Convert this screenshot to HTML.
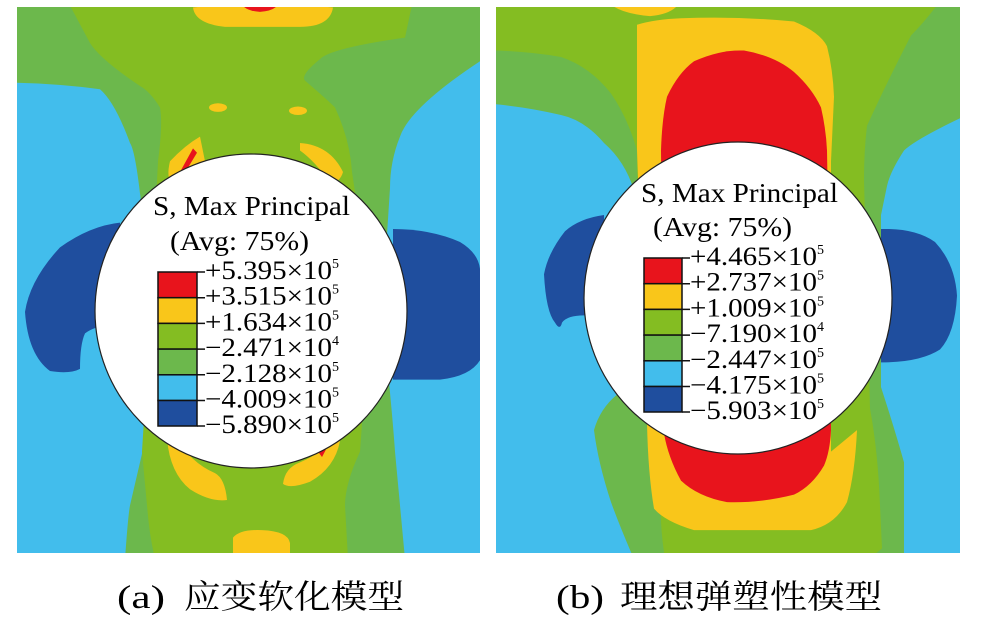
<!DOCTYPE html>
<html><head><meta charset="utf-8"><style>
html,body{margin:0;padding:0;background:#fff;}
svg{display:block;}
</style></head><body>
<svg width="988" height="627" viewBox="0 0 988 627" xmlns="http://www.w3.org/2000/svg" font-family="'Liberation Serif', serif">
<defs>
<clipPath id="cl"><rect x="17" y="7" width="463" height="546"/></clipPath>
<clipPath id="cr"><rect x="496" y="7" width="464" height="546"/></clipPath>
</defs>
<rect width="988" height="627" fill="#fff"/>

<!-- LEFT PANEL -->
<g clip-path="url(#cl)">
<rect x="17" y="7" width="463" height="546" fill="#42bdec"/>
<g transform="scale(1,1.0753)">
<path fill="#6cb84c" d="M17,0 L480,0 L480,57 Q410,100 400,127 Q390,150 390,175 L382,290 Q392,380 395,420 Q400,470 405,520 L410,520 L125,520 Q128,480 130,470 Q140,430 145,410 L142,250 Q142,190 140,180 Q135,140 130,133 Q115,95 100,83 Q60,78 17,77 Z"/>
<path fill="#84bd22" d="M67,0 L413,0 L405,35 Q330,45 320,55 Q300,70 305,75 Q330,95 335,100 Q350,130 352,160 L360,210 L370,290 L360,420 Q345,450 345,470 L348,520 L155,520 Q150,500 148,480 L142,420 L150,300 L158,150 Q163,115 160,100 Q150,85 140,80 Q100,55 90,40 Z"/>
<path fill="#f9c61a" d="M193,7 Q260,0 333,7 Q330,25 300,25 L225,25 Q195,22 193,7 Z"/>
<path fill="#e8141c" d="M240,0 L280,0 Q278,10 260,11 Q242,10 240,0 Z"/>
<ellipse cx="218" cy="100" rx="9" ry="4" fill="#f9c61a"/>
<ellipse cx="298" cy="103" rx="9" ry="4" fill="#f9c61a"/>
<path fill="#f9c61a" d="M200,127 Q185,135 170,150 Q166,165 172,172 L205,150 Z"/>
<path fill="#e8141c" d="M193,138 L180,160 L184,162 L197,142 Z"/>
<path fill="#f9c61a" d="M300,133 Q330,135 343,160 Q340,170 330,170 Q315,150 300,140 Z"/>
<path fill="#f9c61a" d="M167,408 Q170,440 190,455 Q210,467 227,465 Q225,445 215,440 Q190,430 175,405 Z"/>
<path fill="#f9c61a" d="M340,410 Q335,435 310,448 Q290,455 283,450 Q285,435 300,430 Q325,420 335,405 Z"/>
<path fill="#e8141c" d="M318,420 L322,425 L326,418 Z"/>
<path fill="#f9c61a" d="M233,500 Q240,492 262,493 Q288,494 290,505 L290,520 L233,520 Z"/>
<path fill="#1f4e9e" d="M120,207 Q90,210 60,230 Q30,260 25,290 Q28,330 50,345 Q70,348 80,343 Q80,320 85,310 Q100,300 120,305 Z"/>
<path fill="#1f4e9e" d="M393,213 Q430,213 460,225 Q478,235 480,250 L480,335 Q470,350 440,353 L393,353 Z"/>
</g>
</g>
<ellipse cx="251" cy="311" rx="156" ry="157" fill="#fff" stroke="#222" stroke-width="1.2"/>

<!-- LEFT LEGEND -->
<text x="153" y="215" font-size="27" textLength="197" lengthAdjust="spacingAndGlyphs">S, Max Principal</text>
<text x="170" y="250" font-size="27" textLength="139" lengthAdjust="spacingAndGlyphs">(Avg: 75%)</text>
<g stroke="#111" stroke-width="1.5">
<rect x="158" y="272" width="39" height="25.7" fill="#e8141c"/>
<rect x="158" y="297.7" width="39" height="25.7" fill="#f9c61a"/>
<rect x="158" y="323.4" width="39" height="25.7" fill="#84bd22"/>
<rect x="158" y="349.1" width="39" height="25.7" fill="#6cb84c"/>
<rect x="158" y="374.8" width="39" height="25.7" fill="#42bdec"/>
<rect x="158" y="400.5" width="39" height="25.5" fill="#1f4e9e"/>
<path d="M197,272 h8 M197,297.7 h8 M197,323.4 h8 M197,349.1 h8 M197,374.8 h8 M197,400.5 h8 M197,426 h8"/>
</g>
<g font-size="26">
<text x="205" y="279"><tspan textLength="127" lengthAdjust="spacingAndGlyphs">+5.395×10</tspan><tspan font-size="14" dy="-11">5</tspan></text>
<text x="205" y="304.7"><tspan textLength="127" lengthAdjust="spacingAndGlyphs">+3.515×10</tspan><tspan font-size="14" dy="-11">5</tspan></text>
<text x="205" y="330.4"><tspan textLength="127" lengthAdjust="spacingAndGlyphs">+1.634×10</tspan><tspan font-size="14" dy="-11">5</tspan></text>
<text x="205" y="356.1"><tspan textLength="127" lengthAdjust="spacingAndGlyphs">−2.471×10</tspan><tspan font-size="14" dy="-11">4</tspan></text>
<text x="205" y="381.8"><tspan textLength="127" lengthAdjust="spacingAndGlyphs">−2.128×10</tspan><tspan font-size="14" dy="-11">5</tspan></text>
<text x="205" y="407.5"><tspan textLength="127" lengthAdjust="spacingAndGlyphs">−4.009×10</tspan><tspan font-size="14" dy="-11">5</tspan></text>
<text x="205" y="433"><tspan textLength="127" lengthAdjust="spacingAndGlyphs">−5.890×10</tspan><tspan font-size="14" dy="-11">5</tspan></text>
</g>

<!-- RIGHT PANEL -->
<g clip-path="url(#cr)">
<rect x="496" y="7" width="464" height="546" fill="#42bdec"/>
<g transform="scale(1,1.0753)">
<path fill="#6cb84c" d="M496,0 L960,0 L960,110 Q915,130 904,140 Q890,160 887,173 L881,200 L881,360 Q895,400 904,430 L904,520 L634,520 Q620,490 611,467 Q598,430 594,400 Q600,380 617,367 L634,177 Q625,150 604,133 Q585,112 561,107 Q530,100 496,97 Z"/>
<path fill="#84bd22" d="M496,0 L941,0 Q925,20 911,33 Q885,80 867,117 Q864,140 864,167 L870,380 Q878,420 880,470 L882,510 Q870,520 860,520 L665,520 Q660,490 661,470 L655,400 L640,380 L637,140 Q628,110 611,87 Q590,62 561,53 Q530,48 496,47 Z"/>
<path fill="#f9c61a" d="M607,0 L681,0 Q675,13 650,15 Q615,12 607,0 Z"/>
<path fill="#f9c61a" d="M637,23 Q655,18 681,17 Q740,15 794,20 Q820,30 827,43 Q833,65 834,90 L831,150 L831,420 L857,400 Q855,440 847,467 Q835,488 811,493 L694,493 Q665,485 654,473 Q648,440 647,393 L637,140 Z"/>
<path fill="#e8141c" d="M661,140 Q662,110 667,90 Q678,68 694,57 Q720,46 744,47 Q775,52 794,67 Q812,82 821,100 Q826,120 827,140 L830,300 L831,400 Q830,420 824,433 Q812,452 794,460 Q760,468 727,467 Q698,462 681,447 Q668,425 664,403 Z"/>
<path fill="#1f4e9e" d="M604,200 Q580,203 565,215 Q548,235 544,255 Q546,290 555,300 Q560,308 562,300 Q570,290 604,295 Z"/>
<path fill="#1f4e9e" d="M881,213 Q915,212 935,225 Q955,245 957,275 Q955,310 940,325 Q920,337 881,337 Z"/>
</g>
</g>
<ellipse cx="738" cy="298" rx="154" ry="156" fill="#fff" stroke="#222" stroke-width="1.2"/>

<!-- RIGHT LEGEND -->
<text x="641" y="202" font-size="27" textLength="197" lengthAdjust="spacingAndGlyphs">S, Max Principal</text>
<text x="653" y="236" font-size="27" textLength="139" lengthAdjust="spacingAndGlyphs">(Avg: 75%)</text>
<g stroke="#111" stroke-width="1.5">
<rect x="644" y="258" width="38" height="25.7" fill="#e8141c"/>
<rect x="644" y="283.7" width="38" height="25.7" fill="#f9c61a"/>
<rect x="644" y="309.4" width="38" height="25.7" fill="#84bd22"/>
<rect x="644" y="335.1" width="38" height="25.7" fill="#6cb84c"/>
<rect x="644" y="360.8" width="38" height="25.7" fill="#42bdec"/>
<rect x="644" y="386.5" width="38" height="25.5" fill="#1f4e9e"/>
<path d="M682,258 h8 M682,283.7 h8 M682,309.4 h8 M682,335.1 h8 M682,360.8 h8 M682,386.5 h8 M682,412 h8"/>
</g>
<g font-size="26">
<text x="690" y="265"><tspan textLength="127" lengthAdjust="spacingAndGlyphs">+4.465×10</tspan><tspan font-size="14" dy="-11">5</tspan></text>
<text x="690" y="290.7"><tspan textLength="127" lengthAdjust="spacingAndGlyphs">+2.737×10</tspan><tspan font-size="14" dy="-11">5</tspan></text>
<text x="690" y="316.4"><tspan textLength="127" lengthAdjust="spacingAndGlyphs">+1.009×10</tspan><tspan font-size="14" dy="-11">5</tspan></text>
<text x="690" y="342.1"><tspan textLength="127" lengthAdjust="spacingAndGlyphs">−7.190×10</tspan><tspan font-size="14" dy="-11">4</tspan></text>
<text x="690" y="367.8"><tspan textLength="127" lengthAdjust="spacingAndGlyphs">−2.447×10</tspan><tspan font-size="14" dy="-11">5</tspan></text>
<text x="690" y="393.5"><tspan textLength="127" lengthAdjust="spacingAndGlyphs">−4.175×10</tspan><tspan font-size="14" dy="-11">5</tspan></text>
<text x="690" y="419"><tspan textLength="127" lengthAdjust="spacingAndGlyphs">−5.903×10</tspan><tspan font-size="14" dy="-11">5</tspan></text>
</g>

<!-- CAPTIONS -->
<g font-family="'Liberation Serif','Noto Serif CJK SC',serif" font-size="33">
<text x="117" y="608" textLength="48" lengthAdjust="spacingAndGlyphs">(a)</text>
<text x="184" y="608" font-family="'Noto Serif CJK SC','Noto Sans CJK SC',serif" textLength="220" lengthAdjust="spacingAndGlyphs">应变软化模型</text>
<text x="556" y="608" textLength="48" lengthAdjust="spacingAndGlyphs">(b)</text>
<text x="620" y="608" font-family="'Noto Serif CJK SC','Noto Sans CJK SC',serif" textLength="262" lengthAdjust="spacingAndGlyphs">理想弹塑性模型</text>
</g>
</svg>
</body></html>
